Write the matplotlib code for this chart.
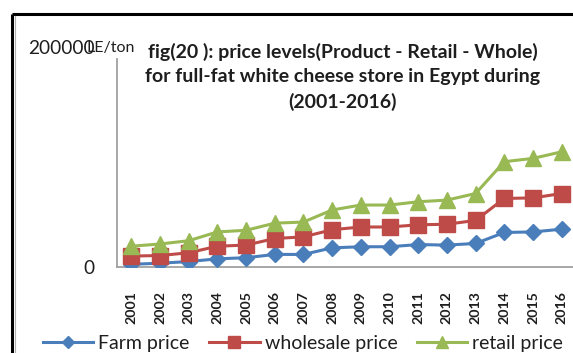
import matplotlib.pyplot as plt
from matplotlib.lines import Line2D
import numpy as np

plt.rcParams["font.family"] = ["Lato", "DejaVu Sans"]

years = [str(y) for y in range(2001, 2017)]
farm_price = [2000, 3000, 4500, 7000, 8000, 11000, 11000, 17000,
              18000, 18000, 20000, 19500, 21000, 31000, 31500, 34000]
wholesale_price = [9500, 10000, 12500, 18500, 19500, 25500, 27000, 33500,
                   36000, 36000, 38000, 38500, 42000, 62000, 62500, 66500]
retail_price = [18500, 20500, 23500, 31500, 33000, 39500, 40500, 51500,
                56000, 56000, 59000, 60500, 66500, 95500, 98500, 104500]

BLUE = "#4a7ebb"
RED = "#be4b48"
GREEN = "#98b954"
AXIS_GREY = "#a0a0a0"
TEXT = "#1e1e1e"

W, H = 573, 353
fig = plt.figure(figsize=(W / 100, H / 100), dpi=100)

# outer frame of the chart object (only top and left edges are in view)
fig.add_artist(Line2D([12 / W, 12 / W], [0, 1 - 14 / H], color="black", lw=2.2,
                      transform=fig.transFigure, solid_capstyle="butt"))
fig.add_artist(Line2D([12 / W, 1], [1 - 14 / H, 1 - 14 / H], color="black", lw=2.2,
                      transform=fig.transFigure, solid_capstyle="butt"))
fig.add_artist(Line2D([14.5 / W, 14.5 / W], [0, 1 - 16 / H], color="#b0b0b0", lw=0.8,
                      transform=fig.transFigure))

ax = fig.add_axes([117 / W, 86.5 / H, (576 - 117) / W, (266.5 - 47) / H])
x = np.arange(len(years))

ax.plot(x, farm_price, color=BLUE, lw=2.2, marker="D", markersize=8.5,
        label="Farm price", zorder=3)
ax.plot(x, wholesale_price, color=RED, lw=2.2, marker="s", markersize=11,
        label="wholesale price", zorder=4)
ax.plot(x, retail_price, color=GREEN, lw=2.2, marker="^", markersize=12,
        label="retail price", zorder=5)

ax.set_xlim(-0.5, len(years) - 0.5)
ax.set_ylim(0, 200000)
ax.set_yticks([0, 200000])
ax.set_yticklabels(["0", "200000"], fontsize=13.8, color=TEXT)
ax.set_xticks(x)
ax.set_xticklabels(years, rotation=90, fontsize=10.2, fontweight="bold", color=TEXT)
ax.tick_params(axis="y", length=0, pad=16)
ax.tick_params(axis="x", length=0, pad=18)

for side in ("top", "right"):
    ax.spines[side].set_visible(False)
for side in ("left", "bottom"):
    ax.spines[side].set_color(AXIS_GREY)
    ax.spines[side].set_linewidth(1.3)
ax.spines["left"].set_bounds(0, 189000)

fig.text(86 / W, 1 - 48 / H, "LE/ton", fontsize=11.5, va="center", ha="left",
         color=TEXT)

fig.text(343 / W, 1 - 77 / H,
         "fig(20 ): price levels(Product - Retail - Whole)\n"
         "for full-fat white cheese store in Egypt during\n"
         "(2001-2016)",
         fontsize=14, fontweight="bold", ha="center", va="center",
         multialignment="center", linespacing=1.5, color=TEXT)

ax.legend(loc="center", bbox_to_anchor=(303 / W, 1 - 343 / H),
          bbox_transform=fig.transFigure, ncol=3, frameon=False,
          fontsize=14, handlelength=2.6, handletextpad=0.25,
          columnspacing=1.0, markerscale=0.75, borderpad=0,
          labelcolor=TEXT)

fig.savefig("out.png", dpi=100)
